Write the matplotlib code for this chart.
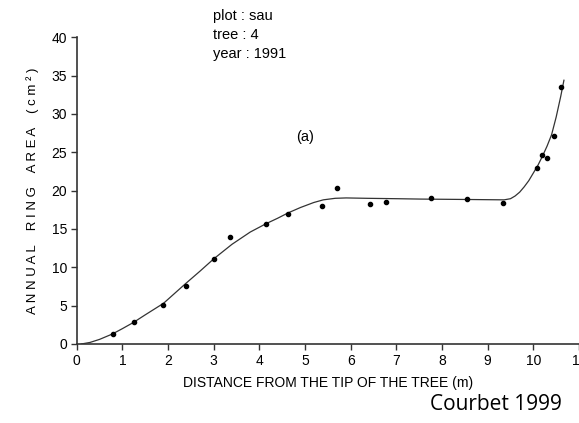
import numpy as np
import matplotlib.pyplot as plt

plt.rcParams['font.family'] = ['Liberation Sans', 'DejaVu Sans']

# measured points
dist = [0.79, 1.26, 1.90, 2.39, 3.00, 3.36, 4.14, 4.62, 5.37, 5.70,
        6.42, 6.78, 7.75, 8.55, 9.34, 10.07, 10.20, 10.31, 10.46, 10.61]
area = [1.3, 2.9, 5.1, 7.6, 11.1, 13.9, 15.7, 17.0, 18.0, 20.4,
        18.3, 18.5, 19.1, 18.9, 18.4, 22.9, 24.7, 24.2, 27.1, 33.5]

# fitted curve
fit_x = [0.10, 0.29, 0.50, 0.78, 1.00, 1.24, 1.50, 1.90, 2.37, 2.70, 3.00, 3.40,
         3.80, 4.15, 4.40, 4.63, 4.90, 5.19, 5.40, 5.66, 5.90, 6.36, 7.00,
         7.53, 8.50, 9.36, 9.50, 9.60, 9.70, 9.80, 9.90, 10.00, 10.10, 10.20,
         10.30, 10.40, 10.50, 10.60, 10.67]
fit_y = [0.0, 0.2, 0.6, 1.3, 2.0, 2.8, 3.8, 5.3, 7.8, 9.5, 11.1, 13.0,
         14.6, 15.7, 16.4, 17.1, 17.8, 18.45, 18.8, 19.0, 19.05, 19.0, 18.95,
         18.9, 18.85, 18.8, 18.95, 19.3, 19.8, 20.5, 21.3, 22.3, 23.3, 24.5,
         25.8, 27.3, 29.6, 32.3, 34.4]

fig = plt.figure(figsize=(5.79, 4.23), dpi=100)
ax = fig.add_axes([0.1325, 0.1868, 0.8675, 0.725])

ax.plot(fit_x, fit_y, color='#333333', lw=0.9)
ax.scatter(dist, area, s=9, color='black', zorder=3)

ax.set_xlim(0, 11)
ax.set_ylim(0, 40)
ax.set_xticks(range(0, 12))
ax.set_yticks(range(0, 41, 5))
for s in ['top', 'right']:
    ax.spines[s].set_visible(False)
for s in ['left', 'bottom']:
    ax.spines[s].set_color('#333333')
    ax.spines[s].set_linewidth(1.2)
ax.tick_params(length=4, width=1, color='#333333', labelsize=10, pad=3)

ax.set_xlabel('DISTANCE FROM THE TIP OF THE TREE (m)', fontsize=10, labelpad=6)
ax.set_ylabel('A N N U A L    R I N G    A R E A    ( c m ² )',
              fontsize=9.5, labelpad=9)

fig.text(0.368, 0.978, 'plot : sau\ntree : 4\nyear : 1991',
         fontsize=10.5, va='top', ha='left', linespacing=1.45)
ax.text(5.0, 27.0, '(a)', fontsize=10.5, ha='center', va='center')
fig.text(0.857, 0.043, 'Courbet 1999', fontsize=15, ha='center', va='center',
         family=['Open Sans', 'DejaVu Sans'])

fig.savefig('out.png', dpi=100)
